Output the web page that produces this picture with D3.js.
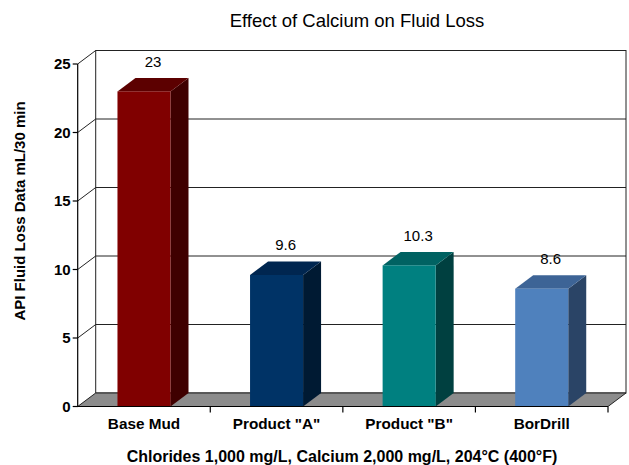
<!DOCTYPE html>
<html><head><meta charset="utf-8">
<script src="https://cdn.jsdelivr.net/npm/d3@7"></script>
<style>body{margin:0;background:#fff}svg{display:block}text{font-family:"Liberation Sans",Arial,Helvetica,sans-serif}</style>
</head><body><svg id="c" width="629" height="465"></svg>
<script>
const categories = ["Base Mud", "Product \"A\"", "Product \"B\"", "BorDrill"];
const values = [23, 9.6, 10.3, 8.6];
const labels = ["23", "9.6", "10.3", "8.6"];
const yTicks = [0, 5, 10, 15, 20, 25];
const frontColors = ["#800000", "#003366", "#008080", "#4f81bd"];
const topColors = ["#5c0000", "#002650", "#006262", "#3d6496"];
const sideColors = ["#3f0000", "#001a33", "#004040", "#2a4466"];

const svg = d3.select("#c");
const dx = 18, dy = -13.5;
const x = d3.scaleBand().domain(categories).range([77.7, 608]).paddingInner(0.6).paddingOuter(0.3);
const xb = d3.scaleBand().domain(categories).range([77.7, 608]);
const y = d3.scaleLinear().domain([0, 25]).range([406.5, 64]);
const x0 = 77.7, x1 = 608;
const line = d3.line();

// back wall
svg.append("rect").attr("x", x0 + dx).attr("y", y(25) + dy).attr("width", x1 - x0).attr("height", y(0) - y(25))
  .attr("fill", "#fff").attr("stroke", "#222").attr("stroke-width", 1);
// gridlines
yTicks.filter(t => t > 0 && t < 25).forEach(t => {
  svg.append("path").attr("d", line([[x0, y(t)], [x0 + dx, y(t) + dy], [x1 + dx, y(t) + dy]]))
    .attr("fill", "none").attr("stroke", "#222").attr("stroke-width", 1);
});
// top-left diagonal
svg.append("path").attr("d", line([[x0, y(25)], [x0 + dx, y(25) + dy]])).attr("fill", "none").attr("stroke", "#222");
// floor
svg.append("path").attr("d", line([[x0, y(0)], [x0 + dx, y(0) + dy], [x1 + dx, y(0) + dy], [x1, y(0)]]) + "Z")
  .attr("fill", "#8c8c8c").attr("stroke", "#222").attr("stroke-width", 1);

// bars
values.forEach((v, i) => {
  const c = categories[i];
  const bx = x(c), bw = x.bandwidth(), top = y(v), bot = y(0);
  svg.append("path").attr("d", line([[bx + bw, top], [bx + bw + dx, top + dy], [bx + bw + dx, bot + dy], [bx + bw, bot]]) + "Z")
    .attr("fill", sideColors[i]);
  svg.append("path").attr("d", line([[bx, top], [bx + dx, top + dy], [bx + bw + dx, top + dy], [bx + bw, top]]) + "Z")
    .attr("fill", topColors[i]);
  svg.append("rect").attr("x", bx).attr("y", top).attr("width", bw).attr("height", bot - top).attr("fill", frontColors[i]);
  svg.append("text").attr("x", bx + bw / 2 + dx / 2).attr("y", top + dy - 11).attr("text-anchor", "middle")
    .attr("font-size", 15).attr("fill", "#000").text(labels[i]);
});

// front axes
svg.append("path").attr("d", line([[x0, y(25)], [x0, y(0)], [x1, y(0)]])).attr("fill", "none").attr("stroke", "#000").attr("stroke-width", 1.2);
yTicks.forEach(t => {
  svg.append("path").attr("d", line([[x0 - 5, y(t)], [x0, y(t)]])).attr("stroke", "#000").attr("stroke-width", 1.2);
  svg.append("text").attr("x", x0 - 7).attr("y", y(t) + 5).attr("text-anchor", "end")
    .attr("font-size", 15).attr("font-weight", "bold").text(t);
});
categories.forEach((c, i) => {
  const bx = xb(c) + xb.bandwidth();
  svg.append("path").attr("d", line([[bx, y(0)], [bx, y(0) + 6]])).attr("stroke", "#000").attr("stroke-width", 1.2);
  svg.append("text").attr("x", xb(c) + xb.bandwidth() / 2).attr("y", 429).attr("text-anchor", "middle")
    .attr("font-size", 15.3).attr("font-weight", "bold").text(c);
});

// titles
svg.append("text").attr("x", 357).attr("y", 27).attr("text-anchor", "middle").attr("font-size", 18.5).text("Effect of Calcium on Fluid Loss");
svg.append("text").attr("transform", "translate(25,211) rotate(-90)").attr("text-anchor", "middle")
  .attr("font-size", 15).attr("font-weight", "bold").text("API Fluid Loss Data mL/30 min");
svg.append("text").attr("x", 342).attr("y", 462).attr("text-anchor", "middle")
  .attr("font-size", 16).attr("font-weight", "bold").text("Chlorides 1,000 mg/L, Calcium 2,000 mg/L, 204°C (400°F)");
</script></body></html>
